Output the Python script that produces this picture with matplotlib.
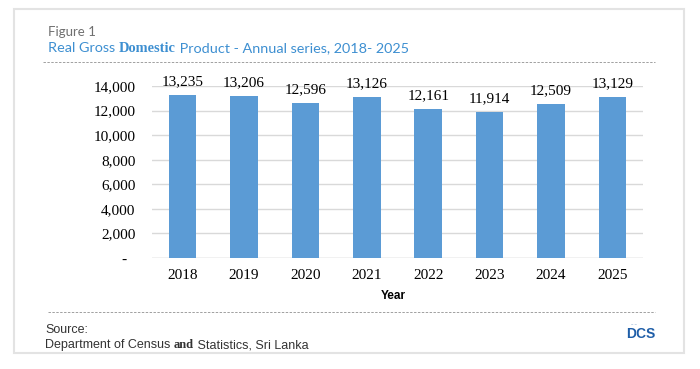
import matplotlib
matplotlib.use('Agg')
import matplotlib.pyplot as plt
from matplotlib.patches import Rectangle
from matplotlib.lines import Line2D

W, H = 700, 369

# Data
years = ['2018', '2019', '2020', '2021', '2022', '2023', '2024', '2025']
gdp = [13235, 13206, 12596, 13126, 12161, 11914, 12509, 13129]
y_ticks = [0, 2000, 4000, 6000, 8000, 10000, 12000, 14000]

# Palette
C_BAR = '#5b9bd5'
C_TITLE = '#3d8fd1'
C_GRAY = '#6f6f6f'
C_GRID = '#d9d9d9'
C_FRAME = '#e3e3e3'
C_DASH = '#a0a0a0'
C_DCS = '#1f5ea8'

SERIF = 'Liberation Serif'
SANS = 'Lato'


def px(x, y):
    # pixel position (from top-left) -> figure fraction
    return x / W, 1 - y / H


def chain_text(fig, x, y, parts, **kw):
    # draw text pieces one after another on the same baseline
    r = fig.canvas.get_renderer()
    for s, extra in parts:
        style = dict(kw)
        style.update(extra)
        t = fig.text(*px(x, y), s, va='baseline', ha='left', **style)
        bb = t.get_window_extent(r)
        x += bb.width


fig = plt.figure(figsize=(W / 100, H / 100), dpi=100)
fig.patch.set_facecolor('white')

# ── outer frame ──
fig.add_artist(Rectangle(px(14, 353), 670 / W, 344 / H, transform=fig.transFigure,
                         facecolor='none', edgecolor=C_FRAME, linewidth=1.5))

# ── header ──
fig.text(*px(48, 32), 'Figure 1', ha='left', va='center', fontsize=9.5,
         color=C_GRAY, family=SANS)
chain_text(fig, 48, 52, [
    ('Real Gross ', dict(family=SANS)),
    ('Domestic', dict(family=SERIF, fontweight='bold')),
    (' Product - Annual series, 2018- 2025', dict(family=SANS)),
], fontsize=10.4, color=C_TITLE)

for yy, x0, x1 in [(62, 43, 655), (312, 48, 655)]:
    fig.add_artist(Line2D([x0 / W, x1 / W], [1 - yy / H, 1 - yy / H],
                          transform=fig.transFigure, color=C_DASH,
                          linewidth=0.7, linestyle=(0, (2.5, 1.5))))

# ── chart ──
ax = fig.add_axes([152 / W, 1 - 258 / H, 491 / W, 172 / H])
x = range(len(years))
bars = ax.bar(x, gdp, width=0.45, color=C_BAR, zorder=2)
ax.set_xlim(-0.5, len(years) - 0.5)
ax.set_ylim(0, 14000)
ax.set_yticks(y_ticks)
ax.set_yticklabels([f'{v:,}' if v else '-  ' for v in y_ticks],
                   family=SERIF, fontsize=11)
ax.set_xticks(list(x))
ax.set_xticklabels(years, family=SERIF, fontsize=11)
ax.tick_params(axis='y', length=0, pad=12)
ax.tick_params(axis='x', length=0, pad=8)
ax.grid(axis='y', color=C_GRID, linewidth=1, zorder=0)
for s in ax.spines.values():
    s.set_visible(False)
ax.axhline(0, color=C_GRID, linewidth=1, zorder=1)

for b, v in zip(bars, gdp):
    ax.annotate(f'{v:,}', (b.get_x() + b.get_width() / 2, v),
                xytext=(0, 7), textcoords='offset points',
                ha='center', va='baseline', family=SERIF, fontsize=11)

fig.text(*px(393, 296), 'Year', ha='center', va='center', fontsize=8.5,
         fontweight='bold', family='Liberation Sans')

# ── footer ──
fig.text(*px(45, 330), 'Source:', ha='left', va='center', fontsize=9,
         color='#333333', family='Liberation Sans')
chain_text(fig, 45, 348, [
    ('Department of Census ', {}),
    ('and', dict(family=SERIF, fontweight='bold')),
    (' Statistics, Sri Lanka', {}),
], fontsize=9, color='#333333', family='Liberation Sans')

fig.text(*px(641, 334), 'DCS', ha='center', va='center', fontsize=10,
         fontweight='bold', color=C_DCS, family='Liberation Sans')
fig.text(*px(634, 325), '~ ~', ha='center', va='center', fontsize=3,
         color=C_DCS, family='Liberation Sans')

fig.savefig('out.png', dpi=100, facecolor='white')
